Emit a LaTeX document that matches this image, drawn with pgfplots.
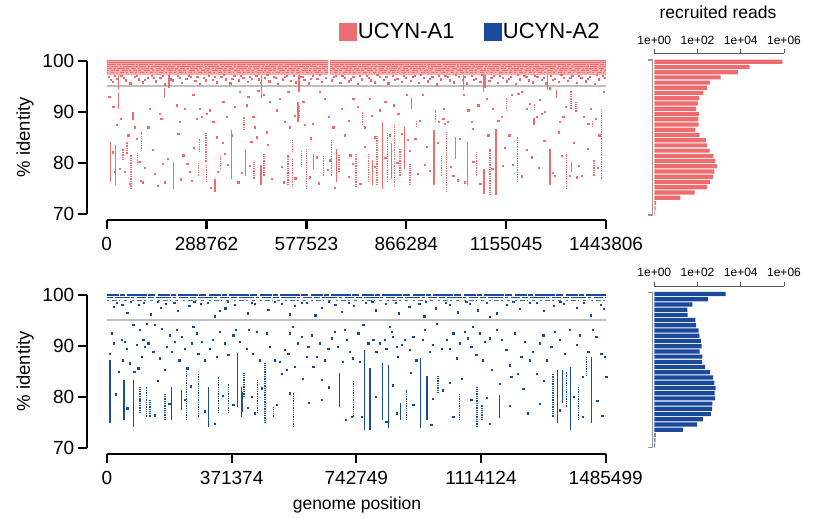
\documentclass[border=0pt]{standalone}
\usepackage{fontspec}
\setmainfont{Liberation Sans}
\usepackage{pgfplots}
\pgfplotsset{compat=1.18}
\definecolor{pinkA}{RGB}{238,107,110}
\definecolor{blueA}{RGB}{27,74,155}
\definecolor{thr}{RGB}{190,190,190}
\definecolor{haxis}{RGB}{90,90,90}
\definecolor{brk}{RGB}{150,150,150}
\pgfplotsset{
 myscat/.style={
  scale only axis, width=539.3pt, height=165.4pt,
  ymin=68.8, ymax=101.2,
  axis line style={draw=none},
  tick align=outside, tick pos=left,
  major tick length=9pt,
  tick style={black, line width=2.2pt},
  ytick={70,80,90,100},
  tick label style={font=\fontsize{19}{22}\selectfont},
  xticklabel style={yshift=-5pt},
  /pgf/number format/assume math mode=true,
  clip=false, unbounded coords=jump,
  every axis y label/.style={at={(axis description cs:-0.1144,0.5)}, rotate=90, anchor=center, font=\fontsize{18.5}{22}\selectfont},
 },
 myhist/.style={
  scale only axis, width=129.7pt,
  xmin=1, xmax=1e6, ymin=69,
  axis x line=top, axis y line=none,
  x axis line style={-, haxis, line width=0.8pt},
  xtick={1,100,10000,1000000},
  xticklabels={1e+00,1e+02,1e+04,1e+06},
  xminorticks=false,
  tick align=outside, major tick length=4pt,
  tick style={haxis, line width=0.8pt},
  xticklabel style={font=\fontsize{12}{14}\selectfont, yshift=1.5pt},
  clip=false,
 },
 sdot/.style={line width=1.3pt, dash pattern=on 1.3pt off 1.0pt, forget plot},
 ssol/.style={line width=1.3pt, forget plot},
 pts/.style={only marks, mark=square*, mark size=0.62pt, mark options={draw=none}, forget plot},
}
\begin{document}
\begin{tikzpicture}
\path[use as bounding box] (0,0) rectangle (820pt,519pt);

% ---------------- top scatter (UCYN-A1) ----------------
\begin{axis}[myscat, at={(86.7pt,299pt)}, anchor=south west,
  xmin=-57.752, xmax=1501.558,
  xtick={0,288.762,577.523,866.284,1155.045,1443.806},
  xticklabels={0,288762,577523,866284,1155045,1443806},
  ylabel={\% identity},
  legend style={at={(axis description cs:0.7108,1.1366)}, anchor=center, draw=none, fill=none,
    font=\fontsize{22}{24}\selectfont, /tikz/every even column/.append style={column sep=27pt}},
  legend columns=2, legend cell align=left]
\addlegendimage{legend image code/.code={\fill[pinkA] (0pt,-8.5pt) rectangle (17pt,8.5pt);}}
\addlegendentry{UCYN-A1}
\addlegendimage{legend image code/.code={\fill[blueA] (0pt,-8.5pt) rectangle (17pt,8.5pt);}}
\addlegendentry{UCYN-A2}
\draw[line width=2.2pt] (axis cs:-57.752,70) -- (axis cs:-57.752,100);
\draw[line width=2.2pt] (axis cs:0,68.8) -- (axis cs:1443.806,68.8);
% dense band
\addplot[draw=none, fill=pinkA!55!white, forget plot] coordinates {(0,97.3) (641,97.3) (641,100.1) (0,100.1)} -- cycle;
\addplot[draw=none, fill=pinkA!55!white, forget plot] coordinates {(645,97.3) (1443.8,97.3) (1443.8,100.1) (645,100.1)} -- cycle;
\addplot[pinkA, line width=1.4pt, forget plot] coordinates {(0,100) (641,100) (641,nan) (645,100) (1443.8,100)};
\addplot[pinkA, line width=1.3pt, forget plot] coordinates {(0,99.65) (641,99.65) (641,nan) (645,99.65) (1443.8,99.65)};
\addplot[pinkA, line width=1.1pt, dash pattern=on 9pt off 1pt on 4pt off 1.5pt on 13pt off 1pt on 2pt off 1pt, forget plot] coordinates {(0,99.25) (641,99.25) (641,nan) (645,99.25) (1443.8,99.25)};
\addplot[pinkA, line width=1.1pt, dash pattern=on 3pt off 1pt on 7pt off 2pt on 2pt off 1pt on 11pt off 1.5pt, forget plot] coordinates {(0,98.85) (641,98.85) (641,nan) (645,98.85) (1443.8,98.85)};
\addplot[pinkA, line width=1.1pt, dash pattern=on 5pt off 2pt on 2pt off 1pt on 8pt off 1pt on 3pt off 2.5pt, forget plot] coordinates {(0,98.45) (641,98.45) (641,nan) (645,98.45) (1443.8,98.45)};
\addplot[pinkA, line width=1.1pt, dash pattern=on 2pt off 2pt on 4pt off 1pt on 3pt off 3pt on 6pt off 1.5pt, forget plot] coordinates {(0,98.05) (641,98.05) (641,nan) (645,98.05) (1443.8,98.05)};
\addplot[pinkA, line width=1.1pt, dash pattern=on 1.5pt off 2.5pt on 3pt off 2pt on 1.5pt off 3pt on 4pt off 2pt, forget plot] coordinates {(0,97.65) (641,97.65) (641,nan) (645,97.65) (1443.8,97.65)};
% threshold
\addplot[thr, line width=2pt, forget plot] coordinates {(0,95) (1443.806,95)};
% streaks
\addplot[pinkA, ssol] coordinates {
(12,76.2)(12,84.1)(12,nan)(25,75.6)(25,83.4)(25,nan)(35,90.6)(35,93.6)(35,nan)(35,94.4)(35,97.2)(35,nan)
(76.5,88.3)(76.5,90)(76.5,nan)(168,92.9)(168,94.6)(168,nan)(180,94.6)(180,97.2)(180,nan)
(194,74.9)(194,80.2)(194,nan)(313,74.2)(313,76.9)(313,nan)(361,76.9)(361,86.4)(361,nan)
(401.5,77.5)(401.5,82.8)(401.5,nan)(446,75.6)(446,79.5)(446,nan)(448,92.6)(448,97.2)(448,nan)
(553.6,88)(553.6,92)(553.6,nan)(556,93.9)(556,97.2)(556,nan)(599,78.8)(599,81.8)(599,nan)
(664.5,76.2)(664.5,82.8)(664.5,nan)(768.7,75.6)(768.7,80.5)(768.7,nan)(797.6,74.9)(797.6,88)(797.6,nan)
(823.6,76.9)(823.6,83.8)(823.6,nan)(862,78.8)(862,87)(862,nan)(881.5,90.6)(881.5,92.6)(881.5,nan)
(946,75.6)(946,86.4)(946,nan)(1031,94.2)(1031,97.2)(1031,nan)(1089,93.9)(1089,97.2)(1089,nan)
(1094,94.6)(1094,97.2)(1094,nan)(1275,94.2)(1275,97.2)(1275,nan)(1008.7,80.8)(1008.7,85)(1008.7,nan)
(1043.5,75.6)(1043.5,84.1)(1043.5,nan)(1090.7,73.9)(1090.7,78.8)(1090.7,nan)(1125.4,73.6)(1125.4,86.7)(1125.4,nan)
(1235.4,87.4)(1235.4,88.7)(1235.4,nan)(1281.7,75.6)(1281.7,82.8)(1281.7,nan)(1301,92.6)(1301,94.2)(1301,nan)
(1344,78.2)(1344,80.2)};
\addplot[pinkA, sdot] coordinates {
(47.5,80.5)(47.5,82.8)(47.5,nan)(59,81.8)(59,84.1)(59,nan)(70,74.9)(70,81.5)(70,nan)(89,79.5)(89,82.1)(89,nan)
(100.6,82.8)(100.6,86)(100.6,nan)(266,77.5)(266,80.2)(266,nan)(269,82.1)(269,84.7)(269,nan)
(287,80.2)(287,86)(287,nan)(289,76.2)(289,79.5)(289,nan)(329,78.8)(329,81.5)(329,nan)
(397,86.4)(397,89)(397,nan)(426,76.9)(426,80.2)(426,nan)(455,77.5)(455,81.8)(455,nan)
(558,88.7)(558,91.3)(558,nan)(537,82.1)(537,84.4)(537,nan)(537,75.2)(537,80.8)(537,nan)
(524.6,75.6)(524.6,81.5)(524.6,nan)(563,79.5)(563,82.4)(563,nan)(577.7,74.9)(577.7,82.8)(577.7,nan)
(626,77.5)(626,81.5)(626,nan)(650,77.5)(650,84.4)(650,nan)(672,78.2)(672,81.5)(672,nan)
(720.5,75.2)(720.5,81.8)(720.5,nan)(740,87.4)(740,90)(740,nan)(757,76.2)(757,81.8)(757,nan)
(782,75.6)(782,85.4)(782,nan)(811,76.2)(811,86)(811,nan)(833,75.2)(833,87.7)(833,nan)
(847.8,77.5)(847.8,82.8)(847.8,nan)(877,75.6)(877,79.8)(877,nan)(896,87)(896,88.3)(896,nan)
(951,88)(951,90.3)(951,nan)(968,77.5)(968,81.5)(968,nan)(982.7,74.2)(982.7,86)(982.7,nan)
(1069.5,77.5)(1069.5,82.1)(1069.5,nan)(1108,73.6)(1108,82.8)(1108,nan)(1156.3,90.6)(1156.3,92.6)(1156.3,nan)
(1187,76.2)(1187,85)(1187,nan)(1238,90.3)(1238,91.6)(1238,nan)(1330,74.9)(1330,81.8)(1330,nan)
(1342.5,90.6)(1342.5,94.2)(1342.5,nan)(1357,90)(1357,91.9)(1357,nan)(1405,87)(1405,88.3)(1405,nan)
(1409,77.5)(1409,80.5)(1409,nan)(1431,76.9)(1431,90.6)};
% fringe below the band
\addplot[pts, pinkA] coordinates {
(5,96.8)(18,95.9)(30,96.5)(42,97.0)(55,96.2)(68,95.6)(80,96.9)(92,96.4)(105,95.8)(118,96.7)(130,97.1)(142,96.0)
(155,96.6)(168,95.4)(180,96.8)(192,96.2)(205,97.0)(218,95.7)(230,96.5)(243,96.9)(256,96.1)(268,95.5)(281,96.7)
(294,97.1)(306,96.3)(319,95.8)(331,96.9)(344,96.4)(357,95.6)(369,97.0)(382,96.2)(395,96.7)(407,95.9)(420,96.5)
(432,97.1)(445,95.7)(458,96.6)(470,96.0)(483,96.9)(495,95.5)(508,96.4)(521,97.0)(533,96.1)(546,95.8)(558,96.8)
(571,96.3)(584,95.6)(596,97.0)(609,96.5)(622,95.9)(634,96.7)(650,96.2)(662,97.1)(675,95.7)(688,96.6)(700,96.0)
(713,96.9)(726,95.5)(738,96.4)(751,97.0)(764,96.2)(776,95.8)(789,96.8)(802,96.3)(814,95.6)(827,97.0)(840,96.5)
(852,95.9)(865,96.7)(878,96.1)(890,97.1)(903,95.7)(916,96.6)(928,96.0)(941,96.9)(954,95.4)(966,96.4)(979,97.0)
(992,96.2)(1004,95.8)(1017,96.8)(1030,96.3)(1042,95.6)(1055,97.0)(1068,96.5)(1080,95.9)(1093,96.7)(1106,96.1)
(1118,97.1)(1131,95.7)(1144,96.6)(1156,96.0)(1169,96.9)(1182,95.5)(1194,96.4)(1207,97.0)(1220,96.2)(1232,95.8)
(1245,96.8)(1258,96.3)(1270,95.6)(1283,97.0)(1296,96.5)(1308,95.9)(1321,96.7)(1334,96.1)(1346,97.1)(1359,95.7)
(1372,96.6)(1384,96.0)(1397,96.9)(1410,95.5)(1422,96.4)(1435,97.0)
(11,96.3)(24,97.1)(49,96.7)(86,97.1)(111,96.3)(136,96.6)(161,97.0)(186,96.4)(211,96.6)(237,97.1)(262,96.8)
(287,96.2)(312,96.9)(338,97.2)(363,96.5)(388,97.1)(413,96.9)(439,96.4)(464,97.2)(489,96.6)(514,96.8)(540,97.1)
(565,96.9)(590,96.5)(616,97.2)(656,96.8)(681,97.0)(706,96.4)(732,97.1)(757,96.7)(782,97.2)(808,96.9)(833,96.3)
(858,97.1)(884,96.8)(909,97.2)(934,96.5)(960,97.1)(985,96.8)(1010,97.2)(1036,96.9)(1061,96.3)(1086,97.2)
(1112,96.6)(1137,97.0)(1162,96.5)(1188,97.2)(1213,96.8)(1238,97.1)(1264,96.7)(1289,96.3)(1314,97.2)(1340,96.7)
(1365,97.1)(1390,96.5)(1416,97.2)(1441,96.6)};
% scattered reads
\addplot[pts, pinkA] coordinates {
(7,92.9)(19,91.0)(30,87.5)(40,88.7)(17,82.1)(23,78.2)(38,78.8)(52,78.2)(62,85.4)(67,75.9)(81,87.0)(86,84.7)
(94,80.2)(98,76.5)(105,76.2)(120,87.0)(125,90.6)(139,77.8)(154,89.6)(158,88.7)(163,79.8)(168,76.2)(202,91.3)
(207,85.7)(212,88.0)(221,81.5)(226,90.6)(233,79.8)(240,78.2)(245,76.5)(250,93.3)(260,88.7)(269,90.6)(274,89.0)
(289,89.6)(298,90.3)(308,88.0)(318,85.0)(322,78.2)(337,91.9)(342,81.8)(347,89.0)(361,85.4)(371,91.0)(380,76.2)
(385,93.9)(404,91.3)(409,92.9)(414,79.5)(424,89.0)(429,87.0)(433,85.0)(438,94.2)(453,93.3)(462,86.0)(472,91.9)
(477,76.9)
(491,90.3)(501,92.6)(515,88.0)(511,76.2)(525,93.9)(530,87.0)(544,89.3)(568,91.9)(573,87.4)(588,77.2)(596,87.7)
(607,81.1)(617,93.9)(631,92.6)(641,89.0)(646,80.5)(655,87.0)(660,75.2)(679,90.6)(689,85.4)(699,88.3)(704,81.5)
(713,92.6)(725,91.0)(733,75.9)(747,87.0)(761,92.6)(766,89.3)(776,85.0)(790,90.3)(805,91.9)(819,85.4)(829,91.3)
(843,89.6)(853,85.7)(868,93.3)(877,82.4)(892,84.7)(906,88.3)(914,93.3)(925,83.1)(935,78.5)(959,88.0)(974,90.6)
(973,88.7)(977,87.7)(987,88.0)(1002,77.5)(1021,84.7)(1032,93.3)(1035,76.2)(1045,90.3)(1055,88.0)(1058,86.7)
(1074,91.3)(1098,92.6)(1103,85.4)(1117,90.6)(1132,88.3)(1142,89.0)(1146,79.5)(1164,85.4)(1170,93.3)(1190,93.6)
(1199,93.9)(1214,90.6)(1224,91.6)(1228,81.1)(1243,89.0)(1251,92.3)(1257,89.6)(1267,90.0)(1280,94.6)(1296,77.5)
(1306,86.0)(1310,88.0)(1320,89.0)(1328,91.0)(1339,77.5)(1359,77.2)(1373,77.5)(1380,89.0)(1392,87.7)(1399,90.6)
(1415,88.7)(1424,85.4)(1436,93.9)
(110,79.0)(133,82.5)(148,75.5)(176,80.8)(215,76.8)(252,83.0)(300,75.1)(335,83.9)(350,79.6)(390,78.0)(418,84.2)
(465,83.5)(505,79.2)(545,77.0)(590,84.8)(612,76.0)(638,78.6)(700,77.3)(712,79.9)(745,83.2)(775,79.2)(805,81.0)
(840,80.0)(870,84.5)(900,77.9)(920,79.7)(958,83.9)(995,79.3)(1015,76.6)(1060,80.2)(1080,75.9)(1115,78.8)
(1150,83.0)(1175,79.6)(1200,77.4)(1215,82.6)(1250,79.1)(1265,84.3)(1290,78.0)(1315,81.4)(1350,84.0)(1365,79.4)
(1390,82.7)(1420,79.0)};
\end{axis}

% ---------------- bottom scatter (UCYN-A2) ----------------
\begin{axis}[myscat, at={(86.7pt,65pt)}, anchor=south west, height=165.3pt,
  xmin=-60.432, xmax=1545.931,
  xtick={0,371.374,742.749,1114.124,1485.499},
  xticklabels={0,371374,742749,1114124,1485499},
  ylabel={\% identity}, xlabel={genome position},
  every axis x label/.style={at={(axis description cs:0.5012,-0.3085)}, anchor=center, font=\fontsize{17.5}{20}\selectfont}]
\draw[line width=2.2pt] (axis cs:-60.432,70) -- (axis cs:-60.432,100);
\draw[line width=2.2pt] (axis cs:0,68.8) -- (axis cs:1485.499,68.8);
% top rows
\addplot[blueA, line width=1.5pt, dash pattern=on 12pt off 1.5pt on 5pt off 2pt on 20pt off 1pt on 7pt off 2.5pt, forget plot] coordinates {(0,100) (1485.5,100)};
\addplot[blueA, line width=1.4pt, dash pattern=on 6pt off 2pt on 15pt off 1.5pt on 3pt off 3pt on 9pt off 2pt, forget plot] coordinates {(0,99.45) (1485.5,99.45)};
\addplot[blueA!80!white, line width=1.1pt, dash pattern=on 2pt off 3pt on 5pt off 2pt on 1.5pt off 4pt on 3pt off 5pt, forget plot] coordinates {(0,98.95) (1485.5,98.95)};
% threshold
\addplot[thr, line width=2pt, forget plot] coordinates {(0,95) (1485.499,95)};
% streaks
\addplot[blueA, ssol] coordinates {
(9,74.8)(9,87.2)(9,nan)(50.6,75.4)(50.6,83.3)(50.6,nan)(78.4,74.1)(78.4,83.3)(78.4,nan)
(192.5,75.4)(192.5,82)(192.5,nan)(222.3,77.4)(222.3,81.3)(222.3,nan)(301.7,74.1)(301.7,82)(301.7,nan)
(389,78.1)(389,88.5)(389,nan)(401,76.1)(401,82)(401,nan)(404,77)(404,81)(404,nan)
(691.6,78.1)(691.6,84.6)(691.6,nan)(768,73.5)(768,89.2)(768,nan)(783,73.5)(783,85.6)(783,nan)
(819.6,75.4)(819.6,86.6)(819.6,nan)(837.5,73.8)(837.5,86.2)(837.5,nan)(875,75.4)(875,78.7)(875,nan)
(933.7,73.8)(933.7,87.6)(933.7,nan)(953.6,75.4)(953.6,84)(953.6,nan)(1170,75.8)(1170,80.4)(1170,nan)
(1341.6,74.8)(1341.6,85.3)(1341.6,nan)(1356.5,78.7)(1356.5,85.3)(1356.5,nan)(1381.3,73.5)(1381.3,85.9)(1381.3,nan)
(1442.8,74.8)(1442.8,87.9)};
\addplot[blueA, sdot] coordinates {
(98,76.8)(98,82)(98,nan)(118,76.1)(118,82)(118,nan)(128,76.1)(128,79.4)(128,nan)(172.7,75.4)(172.7,80.7)(172.7,nan)
(237,75.4)(237,85.9)(237,nan)(272,76.1)(272,84.6)(272,nan)(331.5,76.8)(331.5,84)(331.5,nan)(361,76.8)(361,82.6)(361,nan)
(408,80)(408,84.6)(408,nan)(448.6,76.8)(448.6,83.3)(448.6,nan)(470.4,74.8)(470.4,86.6)(470.4,nan)
(495,76.1)(495,78.1)(495,nan)(554.7,74.1)(554.7,80.7)(554.7,nan)(735,76.1)(735,83.3)(735,nan)
(892,75.4)(892,81.3)(892,nan)(986.3,80.7)(986.3,84)(986.3,nan)(1051,75.4)(1051,80.7)(1051,nan)
(1102.4,74.1)(1102.4,82)(1102.4,nan)(1117,75.4)(1117,78.4)(1117,nan)(1328.7,76.1)(1328.7,84.6)(1328.7,nan)
(1368.4,78.1)(1368.4,84.9)(1368.4,nan)(1405,75.4)(1405,82)(1405,nan)(1428,84)(1428,87.9)};
% fringe between band and threshold
\addplot[pts, blueA] coordinates {
(20,97.6)(45,98.1)(60,96.5)(95,98.0)(130,96.2)(160,97.5)(175,98.3)(210,96.9)(245,97.8)(280,98.2)(320,95.8)
(335,96.9)(352,97.4)(380,98.0)(420,96.4)(440,98.2)(480,97.1)(520,98.3)(545,96.2)(560,97.9)(595,98.4)(620,96.0)
(640,97.5)(680,98.1)(700,96.7)(735,97.9)(770,98.4)(800,97.0)(830,98.2)(870,96.4)(900,97.6)(930,98.3)(945,95.8)
(980,97.4)(1020,98.0)(1045,96.6)(1080,98.3)(1105,97.0)(1140,95.7)(1160,96.4)(1190,98.1)(1230,97.3)(1260,98.4)
(1300,96.9)(1330,97.8)(1360,98.2)(1400,97.5)(1440,96.0)(1470,98.0)(1480,97.3)
(30,98.5)(70,98.6)(110,98.4)(150,98.6)(200,98.5)(260,98.6)(300,98.4)(360,98.6)(430,98.5)(500,98.6)(580,98.5)
(660,98.6)(720,98.4)(790,98.6)(860,98.5)(950,98.6)(1010,98.4)(1070,98.6)(1130,98.5)(1210,98.6)(1280,98.4)
(1350,98.6)(1420,98.5)};
% scattered reads
\addplot[pts, blueA] coordinates {
(14,92.5)(19,90.5)(9,88.5)(43,91.2)(46,87.2)(53,90.8)(58,89.5)(68,86.6)(78,94.1)(81,84.9)(88,90.2)(93,85.6)
(98,93.1)(103,87.9)(108,91.2)(113,89.8)(118,94.4)(123,90.5)(138,88.9)(143,94.1)(158,87.6)(163,93.4)(172,85.3)
(177,89.8)(187,92.1)(192,88.9)(202,90.8)(207,93.1)(215,87.2)(222,91.8)(232,89.5)(239,85.6)(252,90.5)(257,93.8)
(267,92.5)(272,88.5)(282,90.8)(292,87.2)(306,89.5)(316,91.2)(326,87.9)(336,92.8)(351,90.5)(361,88.2)(376,92.1)
(384,93.1)(396,90.8)(416,89.5)(421,93.1)(435,88.5)(445,92.8)(455,87.2)(475,92.5)(485,89.8)
(34,84.9)(98,79.4)(143,76.4)(232,79.4)(321,74.8)(376,78.4)(430,80.0)(440,76.8)
(500,87.2)(515,86.9)(530,89.2)(535,85.3)(540,88.5)(545,92.5)(554,93.8)(559,85.9)(569,90.5)(579,91.8)(584,83.6)
(594,87.9)(599,89.8)(609,92.1)(614,85.9)(624,87.9)(634,90.5)(639,83.3)(649,87.2)(659,89.5)(669,91.5)(678,92.8)
(688,89.8)(703,86.9)(708,93.1)(713,91.2)(723,88.9)(731,87.6)(748,92.5)(753,86.9)(763,94.1)(778,90.5)(793,91.2)
(802,88.9)(812,90.5)(827,91.2)(832,89.5)(842,93.8)(847,92.8)(852,91.8)(862,89.8)(867,87.9)(877,90.2)(887,91.2)
(902,89.2)(912,91.8)(921,87.2)(941,91.2)(946,93.1)(961,88.9)(971,90.2)(981,94.4)(996,89.5)
(505,78.4)(545,80.7)(639,79.4)(728,76.1)(758,76.1)(832,75.1)(862,76.8)(912,78.4)(966,74.5)(1001,81.3)
(1011,91.2)(1021,89.5)(1031,92.5)(1041,87.6)(1051,90.5)(1056,83.6)(1065,92.8)(1075,91.5)(1085,89.8)(1090,93.8)
(1100,88.2)(1110,92.5)(1118,87.2)(1125,90.8)(1140,91.5)(1145,85.3)(1160,93.1)(1170,82.6)(1175,91.2)(1189,89.2)
(1199,86.2)(1204,84.0)(1214,92.5)(1224,84.6)(1234,87.9)(1244,90.8)(1259,87.2)(1269,88.9)(1279,84.6)(1289,90.5)
(1299,92.1)(1309,87.2)(1323,89.8)(1333,92.8)(1348,91.2)(1363,88.5)(1378,93.1)(1398,90.2)(1408,92.1)(1418,84.0)
(1433,88.9)(1447,93.1)(1457,91.8)(1472,88.5)(1482,87.9)(1487,84.0)
(1031,76.1)(1085,79.4)(1140,74.8)(1254,76.8)(1289,78.7)(1348,77.4)(1418,76.1)
(25,80.5)(60,77.8)(150,83.2)(185,78.6)(250,82.1)(290,77.2)(345,80.3)(420,77.9)(460,81.7)(520,84.6)(600,78.8)
(660,81.9)(710,75.5)(800,80.1)(850,82.3)(905,84.7)(970,79.6)(1020,82.8)(1130,79.9)(1200,78.3)(1240,81.6)
(1300,83.2)(1390,80.1)(1460,79.2)(1475,76.3)};
\end{axis}

% ---------------- top histogram ----------------
\begin{axis}[xmode=log, myhist, at={(654.3pt,297.75pt)}, anchor=south west, height=167.95pt, ymax=101.106,
  title={recruited reads},
  title style={at={(axis description cs:0.491,1.21)}, anchor=center, font=\fontsize{17.5}{20}\selectfont}]
\draw[brk, line width=1.1pt] (axis cs:0.528,99.825) -- (axis cs:0.808,99.825) -- (axis cs:0.808,70.194) -- (axis cs:0.528,70.194);
\addplot[xbar, bar width=4.2pt, fill=pinkA, draw=none] coordinates {
(851000,99.5)(25700,98.5)(7400,97.5)(1175,96.5)(380,95.5)(275,94.5)(186,93.5)(117,92.5)(105,91.5)(87,90.5)
(117,89.5)(110,88.5)(112,87.5)(79,86.5)(126,85.5)(240,84.5)(275,83.5)(363,82.5)(537,81.5)(661,80.5)
(776,79.5)(603,78.5)(525,77.5)(380,76.5)(275,75.5)(74,74.5)(16,73.5)(1.2,72.5)(1.15,71.5)(1.1,70.5)};
\end{axis}

% ---------------- bottom histogram ----------------
\begin{axis}[xmode=log, myhist, at={(654.3pt,65.79pt)}, anchor=south west, height=167.21pt, ymax=101.033]
\draw[brk, line width=1.1pt] (axis cs:0.528,99.749) -- (axis cs:0.808,99.749) -- (axis cs:0.808,70.056) -- (axis cs:0.528,70.056);
\addplot[xbar, bar width=4.2pt, fill=blueA, draw=none] coordinates {
(2000,99.5)(302,98.5)(58,97.5)(34,96.5)(35,95.5)(79,94.5)(87,93.5)(112,92.5)(120,91.5)(141,90.5)
(155,89.5)(126,88.5)(166,87.5)(162,86.5)(224,85.5)(380,84.5)(525,83.5)(603,82.5)(692,81.5)(617,80.5)
(646,79.5)(490,78.5)(468,77.5)(417,76.5)(178,75.5)(95,74.5)(21,73.5)(1.15,72.5)(1.12,71.5)(1.1,70.5)};
\end{axis}
\end{tikzpicture}
\end{document}
